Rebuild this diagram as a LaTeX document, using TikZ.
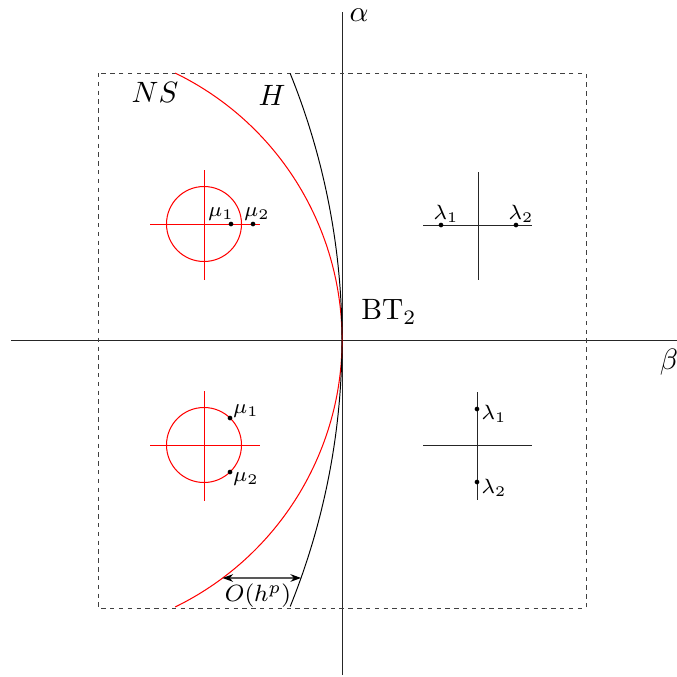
\documentclass[tikz,border=0pt]{standalone}
\usetikzlibrary{arrows.meta,intersections}
\begin{document}
\begin{tikzpicture}[x=0.34pt,y=-0.34pt,
  axis/.style={line width=0.3pt,black!85},
  redline/.style={red,line width=0.35pt},
  redcross/.style={red,line width=0.28pt},
  dot/.style={circle,fill=black,inner sep=0pt,minimum size=1.6pt},
  lab/.style={font=\scriptsize,inner sep=0.5pt},
  dimarrow/.style={{Stealth[length=3.6pt,width=2.6pt]}-{Stealth[length=3.6pt,width=2.6pt]},line width=0.4pt}]
\useasboundingbox (0,0) rectangle (677,677);
% axes
\coordinate (xl) at (11,340);
\coordinate (xr) at (690,340);
\coordinate (yb) at (342,675);
\coordinate (yt) at (342,12);
\draw[axis] (xl) -- (xr);
\draw[axis] (yb) -- (yt);
\node (alpha) at (359,15) {$\alpha$};
\node (beta) at (669,362) {$\beta$};
% dashed box
\draw[dash pattern=on 1.5pt off 1.5pt,line width=0.3pt,black!75] (98,73) rectangle (586,608);
% NS curve
\draw[redline,name path=NS] (45,340) ++(-64:297) arc[start angle=-64,end angle=64,radius=297];
% H curve
\draw[name path=H,line width=0.33pt] (-369.5,340) ++(-22:711.5) arc[start angle=-22,end angle=22,radius=711.5];
\node (NSl) at (155,92) {$NS$};
\node (Hl) at (272,95) {$H$};
\node (BT) at (389,312) {$\mathrm{BT}_2$};
% O(h^p) arrow
\path[name path=hl] (100,578) -- (340,578);
\path[name intersections={of=NS and hl,by=oa}];
\path[name intersections={of=H and hl,by=ob}];
\draw[dimarrow] (oa) -- (ob);
\node[font=\footnotesize] (O) at (258,596) {$O(h^p)$};
% top-left
\draw[redline] (204,224) circle[radius=37.5];
\draw[redcross] (150,224) -- (260,224);
\draw[redcross] (204,170) -- (204,280);
\node[dot] (m1) at (231,224) {};
\node[dot] (m2) at (253,224) {};
\node[lab] (m1l) at (221,214) {$\mu_1$};
\node[lab] (m2l) at (257,214) {$\mu_2$};
% bottom-left
\draw[redline] (204,445) circle[radius=37.5];
\draw[redcross] (150,445) -- (260,445);
\draw[redcross] (204,391) -- (204,501);
\node[dot] (n1) at (230,418) {};
\node[dot] (n2) at (230,472) {};
\node[lab] (n1l) at (246,411) {$\mu_1$};
\node[lab] (n2l) at (246,479) {$\mu_2$};
% top-right
\draw[axis] (423,225) -- (532,225);
\draw[axis] (478,172) -- (478,280);
\node[dot] (l1) at (441,225) {};
\node[dot] (l2) at (516,225) {};
\node[lab] (l1l) at (446,214) {$\lambda_1$};
\node[lab] (l2l) at (521,214) {$\lambda_2$};
% bottom-right
\draw[axis] (423,445) -- (532,445);
\draw[axis] (477,392) -- (477,500);
\node[dot] (k1) at (477,409) {};
\node[dot] (k2) at (477,482) {};
\node[lab] (k1l) at (494,414) {$\lambda_1$};
\node[lab] (k2l) at (494,488) {$\lambda_2$};
\end{tikzpicture}
\end{document}
